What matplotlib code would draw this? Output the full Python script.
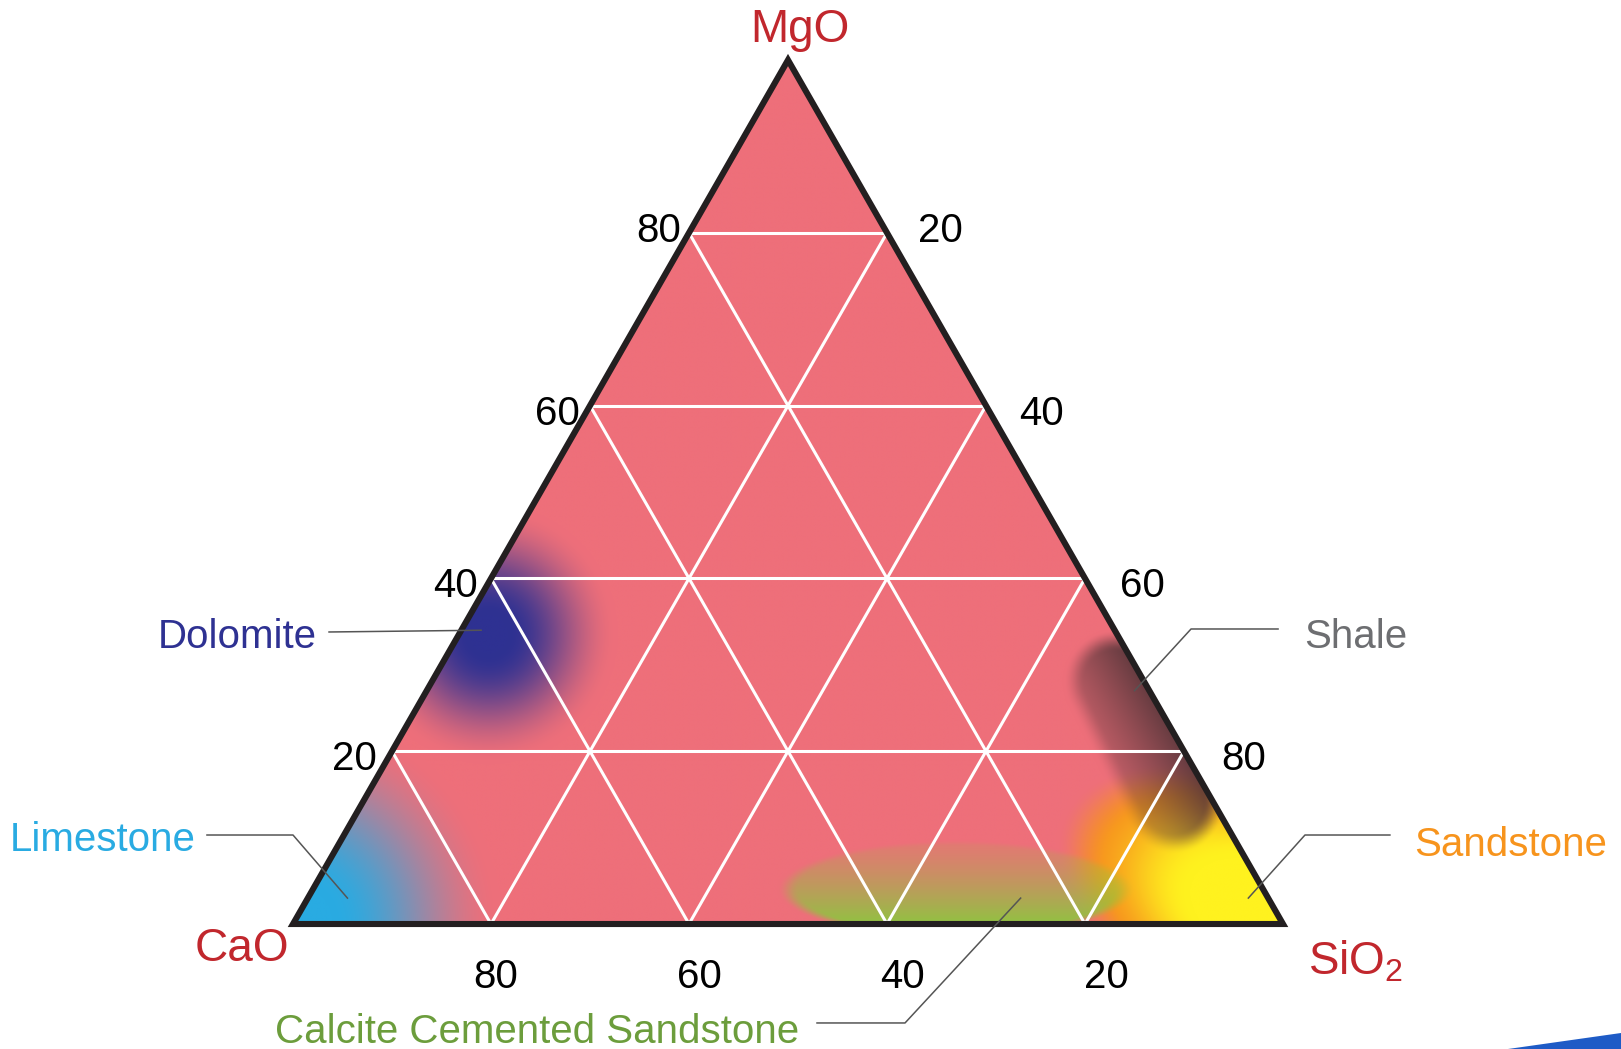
import numpy as np
import matplotlib
matplotlib.use("Agg")
import matplotlib.pyplot as plt
from matplotlib.patches import Polygon

plt.rcParams['font.family'] = ['Liberation Sans', 'DejaVu Sans']
plt.rcParams['mathtext.fontset'] = 'custom'
plt.rcParams['mathtext.rm'] = 'Liberation Sans'
plt.rcParams['mathtext.it'] = 'Liberation Sans:italic'

# --------------------------------------------------------
# Data (compositions as CaO, SiO2, MgO in %)
# --------------------------------------------------------
ticks = [20, 40, 60, 80]
corner_names = ['CaO', 'SiO$_2$', 'MgO']

limestone_centre = (100, 0, 0)
dolomite_centre = (63.5, 3, 33.5)
sandstone_axis = [(0, 100, 0), (11, 80, 9)]
calcite_centre = (31, 65, 4)
shale_axis = [(3, 69, 28), (4, 82, 14)]

rock_names = ['Dolomite', 'Limestone', 'Shale', 'Sandstone', 'Calcite Cemented Sandstone']
rock_colors = ['#2e3192', '#29abe2', '#6d6e71', '#f7941d', '#6c9d3c']
rock_targets = [(64, 2, 34), (93, 4, 3), (1.5, 71.5, 27), (2, 95, 3), (25, 72, 3)]

H3 = np.sqrt(3) / 2
PX = 1 / 1.389  # pixels -> points at 100 dpi


def to_xy(cao, sio2, mgo):
    tot = cao + sio2 + mgo
    b, c = sio2 / tot, mgo / tot
    return b + c / 2, c * H3


def smooth(e0, e1, v):
    t = np.clip((v - e0) / (e1 - e0), 0, 1)
    return t * t * (3 - 2 * t)


def hexrgb(h):
    return np.array([int(h[i:i + 2], 16) / 255 for i in (1, 3, 5)])


def over(img, color, alpha):
    return img * (1 - alpha[..., None]) + color * alpha[..., None]


def capsule(X, Y, ends):
    p1 = np.array(to_xy(*ends[0]))
    p2 = np.array(to_xy(*ends[1]))
    seg = p2 - p1
    u = np.clip(((X - p1[0]) * seg[0] + (Y - p1[1]) * seg[1]) / seg.dot(seg), 0, 1)
    return np.hypot(X - (p1[0] + u * seg[0]), Y - (p1[1] + u * seg[1])), u


# --------------------------------------------------------
# Figure / axes (triangle side mapped to ~990 px)
# --------------------------------------------------------
W, H = 1621, 1049
left_px, base_px, side_px, height_px = 293, 924, 990, 864
yscale = height_px / H3

fig = plt.figure(figsize=(W / 100, H / 100), dpi=100)
ax = fig.add_axes([0, 0, 1, 1])
ax.set_xlim(-left_px / side_px, (W - left_px) / side_px)
ax.set_ylim((base_px - H) / yscale, base_px / yscale)
ax.axis('off')

# --------------------------------------------------------
# Coloured field image
# --------------------------------------------------------
n = 1200
X, Y = np.meshgrid(np.linspace(0, 1, n), np.linspace(0, H3, int(n * H3)))
img = np.ones(X.shape + (3,)) * hexrgb('#ee6f7a')

# limestone at the CaO corner
lx, ly = to_xy(*limestone_centre)
r = np.hypot(X - lx, Y - ly)
img = over(img, hexrgb('#29abe2'), 1 - smooth(0.04, 0.21, r))

# dolomite
dx, dy = to_xy(*dolomite_centre)
r = np.hypot(X - dx, Y - dy)
img = over(img, hexrgb('#2e3192'), 1 - smooth(0.02, 0.13, r))

# sandstone: elongated field from the SiO2 corner, yellow turning orange up-slope
p0 = np.array(to_xy(*sandstone_axis[0]))
p1 = np.array(to_xy(*sandstone_axis[1]))
ax_dir = (p1 - p0) / np.linalg.norm(p1 - p0)
along = (X - p0[0]) * ax_dir[0] + (Y - p0[1]) * ax_dir[1]
perp = -(X - p0[0]) * ax_dir[1] + (Y - p0[1]) * ax_dir[0]
rho = np.hypot(along / 0.225, perp / 0.12)
t = smooth(0.45, 0.95, rho)[..., None]
sand = hexrgb('#fff21f') * (1 - t) + hexrgb('#f7941d') * t
a = 1 - smooth(0.85, 1.1, rho)
img = img * (1 - a[..., None]) + sand * a[..., None]

# calcite cemented sandstone ellipse
cx, cy = to_xy(*calcite_centre)
rx, ry = 0.176, 0.048
d = np.hypot((X - cx) / rx, (Y - cy) / ry)
v = np.clip(1 - Y / (cy + ry), 0, 1)
img = over(img, hexrgb('#8dc63f'), (1 - smooth(0.9, 1.03, d)) * (0.12 + 0.83 * v ** 1.3))

# shale capsule along the right edge, darker towards the edge
d, u = capsule(X, Y, shale_axis)
R = 0.046
mask = 1 - smooth(R - 0.016, R + 0.006, d)
cao_frac = 1 - (X - (Y / H3) / 2) - Y / H3
g = np.clip(1 - cao_frac * H3 / 0.095, 0, 1)
img = over(img, hexrgb('#553539'), mask * (0.17 + 0.72 * g ** 1.2))

corners = [to_xy(100, 0, 0), to_xy(0, 100, 0), to_xy(0, 0, 100)]
tri = Polygon(corners, closed=True, facecolor='none', edgecolor='none')
ax.add_patch(tri)
im = ax.imshow(img, extent=(0, 1, 0, H3), origin='lower', interpolation='bilinear',
               aspect='auto', zorder=1)
im.set_clip_path(tri)

# --------------------------------------------------------
# Grid lines
# --------------------------------------------------------
for k in ticks:
    for p, q in [((100 - k, 0, k), (0, 100 - k, k)),
                 ((0, k, 100 - k), (100 - k, k, 0)),
                 ((k, 0, 100 - k), (k, 100 - k, 0))]:
        x0, y0 = to_xy(*p)
        x1, y1 = to_xy(*q)
        ax.plot([x0, x1], [y0, y1], color='white', lw=2.2, zorder=3)

outline = Polygon(corners, closed=True, facecolor='none', edgecolor='#231f20',
                  lw=4.4, joinstyle='miter', zorder=4)
ax.add_patch(outline)

# --------------------------------------------------------
# Tick labels
# --------------------------------------------------------
for k in ticks:
    h = k / 100
    # MgO along left edge
    ax.annotate(str(k), to_xy(100 - k, 0, k),
                xytext=(-(8 + (0.8 - h) / 0.6 * 7) * PX, (2 if k == 80 else -8) * PX),
                textcoords='offset points', ha='right', va='center', fontsize=29, color='black')
    # SiO2 along right edge
    ax.annotate(str(k), to_xy(0, k, 100 - k),
                xytext=((31 + (h - 0.2) / 0.6 * 6) * PX, (2 if k == 20 else -8) * PX),
                textcoords='offset points', ha='left', va='center', fontsize=29, color='black')
    # CaO along base
    ax.annotate(str(k), to_xy(k, 100 - k, 0),
                xytext=((5 + (80 - k) * 0.27) * PX, -53 * PX), textcoords='offset points',
                ha='center', va='center', fontsize=29, color='black')

# corner labels
red = '#c1272d'
ax.text(0.512, 0.896, corner_names[2], ha='center', va='center', fontsize=33, color=red)
ax.text(-0.0515, -0.025, corner_names[0], ha='center', va='center', fontsize=33, color=red)
ax.text(1.0737, -0.038, corner_names[1], ha='center', va='center', fontsize=33, color=red)

# --------------------------------------------------------
# Rock labels with leader lines
# --------------------------------------------------------
text_pos = [(-0.0566, 0.2877, 'center'), (-0.1919, 0.0842, 'center'),
            (1.0212, 0.2877, 'left'), (1.1323, 0.0792, 'left'),
            (0.2465, -0.1083, 'center')]
elbows = [[(0.0364, 0.2927)],
          [(-0.0869, 0.0892), (0.0, 0.0892)],
          [(0.995, 0.2957), (0.9071, 0.2957)],
          [(1.108, 0.0892), (1.0222, 0.0892)],
          [(0.5293, -0.0992), (0.6182, -0.0992)]]

for name, col, tgt, (tx, ty, ha), elb in zip(rock_names, rock_colors, rock_targets,
                                              text_pos, elbows):
    ax.text(tx, ty, name, ha=ha, va='center', fontsize=29, color=col, zorder=5)
    pts = elb + [to_xy(*tgt)]
    ax.plot([p[0] for p in pts], [p[1] for p in pts], color='#555555', lw=1.1, zorder=5)

# slide decoration in the bottom-right corner
fig.patches.append(Polygon([[1508 / W, 0], [1, 16 / H], [1, 0]], closed=True,
                           transform=fig.transFigure, facecolor='#1e5bc6', edgecolor='none'))

fig.savefig('out.png', dpi=100)
